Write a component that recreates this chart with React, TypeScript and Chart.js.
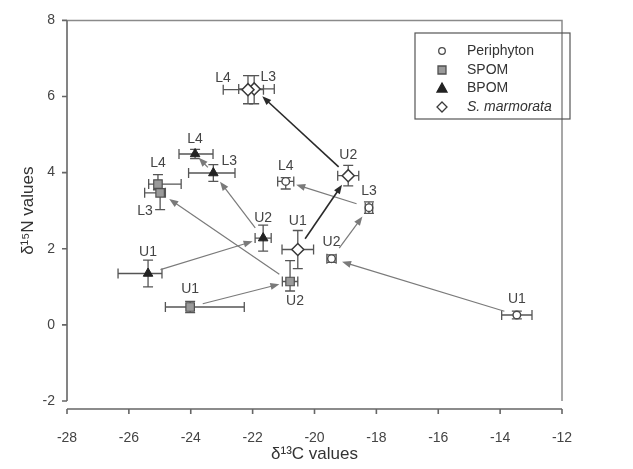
import React, { useEffect, useRef } from 'react';
import { Chart, registerables } from 'chart.js';

Chart.register(...registerables);

// ---- data ----
const stages = ['U1', 'U2', 'L3', 'L4'];

const periphytonX = [-13.46, -19.45, -18.24, -20.93];
const periphytonY = [0.26, 1.74, 3.08, 3.77];
const periphytonXErrLow = [0.49, 0.15, 0.12, 0.26];
const periphytonXErrHigh = [0.49, 0.15, 0.12, 0.26];
const periphytonYErrLow = [0.1, 0.1, 0.15, 0.2];
const periphytonYErrHigh = [0.1, 0.1, 0.15, 0.1];

const spomX = [-24.02, -20.79, -24.99, -25.06];
const spomY = [0.47, 1.14, 3.47, 3.7];
const spomXErrLow = [0.8, 0.25, 0.5, 0.3];
const spomXErrHigh = [1.75, 0.25, 0.17, 0.75];
const spomYErrLow = [0.15, 0.25, 0.44, 0.15];
const spomYErrHigh = [0.15, 0.55, 0.1, 0.25];

const bpomX = [-25.38, -21.66, -23.27, -23.86];
const bpomY = [1.35, 2.28, 3.99, 4.49];
const bpomXErrLow = [0.97, 0.26, 0.8, 0.52];
const bpomXErrHigh = [0.45, 0.26, 0.7, 0.58];
const bpomYErrLow = [0.35, 0.34, 0.22, 0.12];
const bpomYErrHigh = [0.35, 0.34, 0.22, 0.12];

const smarmX = [-20.54, -18.91, -21.95, -22.15];
const smarmY = [1.98, 3.92, 6.2, 6.18];
const smarmXErrLow = [0.51, 0.34, 0.5, 0.8];
const smarmXErrHigh = [0.51, 0.34, 0.65, 0.5];
const smarmYErrLow = [0.5, 0.27, 0.39, 0.37];
const smarmYErrHigh = [0.5, 0.27, 0.35, 0.37];

const periphytonPath = ['U1', 'U2', 'L3', 'L4'];
const spomPath = ['U1', 'U2', 'L3'];
const bpomPath = ['U1', 'U2', 'L3', 'L4'];
const smarmPath = ['U1', 'U2', 'L3'];

const xTickValues = [-28, -26, -24, -22, -20, -18, -16, -14, -12];
const yTickValues = [-2, 0, 2, 4, 6, 8];

const seriesNames = ['Periphyton', 'SPOM', 'BPOM', 'S. marmorata'];

// ---- styling (not data) ----
const FONT = '"Liberation Sans", Arial, Helvetica, sans-serif';
const labelOffsets: number[][][] = [
  [[0, -16], [0, -17], [0, -17], [0, -15]],
  [[0, -18], [5, 20], [-15, 18], [0, -21]],
  [[0, -21], [0, -20], [16, -12], [0, -15]],
  [[0, -28], [0, -21], [14, -12], [-25, -12]],
];

function pts(xs: number[], ys: number[]) {
  return xs.map((x, i) => ({ x, y: ys[i] }));
}

const errs = [
  [periphytonXErrLow, periphytonXErrHigh, periphytonYErrLow, periphytonYErrHigh],
  [spomXErrLow, spomXErrHigh, spomYErrLow, spomYErrHigh],
  [bpomXErrLow, bpomXErrHigh, bpomYErrLow, bpomYErrHigh],
  [smarmXErrLow, smarmXErrHigh, smarmYErrLow, smarmYErrHigh],
];
const paths = [periphytonPath, spomPath, bpomPath, smarmPath];
const arrowColors = ['#7a7a7a', '#7a7a7a', '#7a7a7a', '#2a2a2a'];
const arrowWidths = [1.2, 1.2, 1.2, 1.6];

const framePlugin = {
  id: 'frame',
  beforeDatasetsDraw(chart: any) {
    const { ctx } = chart;
    const xs = chart.scales.x;
    const ys = chart.scales.y;
    const x0 = xs.getPixelForValue(xTickValues[0]);
    const x1 = xs.getPixelForValue(xTickValues[xTickValues.length - 1]);
    const y0 = ys.getPixelForValue(yTickValues[yTickValues.length - 1]);
    const y1 = ys.getPixelForValue(yTickValues[0]);
    ctx.save();
    ctx.lineCap = 'butt';
    ctx.strokeStyle = '#8a8a8a';
    ctx.lineWidth = 1.5;
    ctx.beginPath();
    ctx.moveTo(x0, y0);
    ctx.lineTo(x1, y0);
    ctx.lineTo(x1, y1);
    ctx.stroke();
    ctx.strokeStyle = '#666';
    ctx.lineWidth = 1.6;
    ctx.beginPath();
    ctx.moveTo(x0, y0);
    ctx.lineTo(x0, y1);
    for (const v of yTickValues) {
      const y = ys.getPixelForValue(v);
      ctx.moveTo(x0 - 5, y);
      ctx.lineTo(x0, y);
    }
    ctx.stroke();
    const ya = y1 + 8;
    ctx.beginPath();
    ctx.moveTo(x0, ya);
    ctx.lineTo(x1, ya);
    for (const v of xTickValues) {
      const x = xs.getPixelForValue(v);
      ctx.moveTo(x, ya);
      ctx.lineTo(x, ya + 5);
    }
    ctx.stroke();

    // error bars
    ctx.strokeStyle = '#555';
    ctx.lineWidth = 1.3;
    chart.data.datasets.forEach((ds: any, di: number) => {
      const [xl, xh, yl, yh] = errs[di];
      ds.data.forEach((p: any, i: number) => {
        const px = xs.getPixelForValue(p.x);
        const py = ys.getPixelForValue(p.y);
        const xa = xs.getPixelForValue(p.x - xl[i]);
        const xb = xs.getPixelForValue(p.x + xh[i]);
        const ya2 = ys.getPixelForValue(p.y - yl[i]);
        const yb = ys.getPixelForValue(p.y + yh[i]);
        const c = 5;
        ctx.beginPath();
        ctx.moveTo(xa, py); ctx.lineTo(xb, py);
        ctx.moveTo(xa, py - c); ctx.lineTo(xa, py + c);
        ctx.moveTo(xb, py - c); ctx.lineTo(xb, py + c);
        ctx.moveTo(px, ya2); ctx.lineTo(px, yb);
        ctx.moveTo(px - c, ya2); ctx.lineTo(px + c, ya2);
        ctx.moveTo(px - c, yb); ctx.lineTo(px + c, yb);
        ctx.stroke();
      });
    });

    // arrows
    chart.data.datasets.forEach((ds: any, di: number) => {
      const path = paths[di];
      ctx.strokeStyle = arrowColors[di];
      ctx.fillStyle = arrowColors[di];
      ctx.lineWidth = arrowWidths[di];
      for (let k = 0; k < path.length - 1; k++) {
        const a = ds.data[stages.indexOf(path[k])];
        const b = ds.data[stages.indexOf(path[k + 1])];
        const ax = xs.getPixelForValue(a.x), ay = ys.getPixelForValue(a.y);
        const bx = xs.getPixelForValue(b.x), by = ys.getPixelForValue(b.y);
        const dx = bx - ax, dy = by - ay;
        const d = Math.hypot(dx, dy);
        const ux = dx / d, uy = dy / d;
        const g0 = Math.min(13, d * 0.3);
        const g1 = Math.min(11, d * 0.2);
        const sx = ax + ux * g0, sy = ay + uy * g0;
        const ex = bx - ux * g1, ey = by - uy * g1;
        const hl = 9, hw = 3.5;
        ctx.beginPath();
        ctx.moveTo(sx, sy);
        ctx.lineTo(ex - ux * hl * 0.8, ey - uy * hl * 0.8);
        ctx.stroke();
        ctx.beginPath();
        ctx.moveTo(ex, ey);
        ctx.lineTo(ex - ux * hl - uy * hw, ey - uy * hl + ux * hw);
        ctx.lineTo(ex - ux * hl + uy * hw, ey - uy * hl - ux * hw);
        ctx.closePath();
        ctx.fill();
      }
    });
    ctx.restore();
  },
  afterDatasetsDraw(chart: any) {
    const { ctx } = chart;
    const xs = chart.scales.x;
    const ys = chart.scales.y;
    ctx.save();
    ctx.fillStyle = '#444';
    ctx.font = `14px ${FONT}`;
    ctx.textAlign = 'center';
    ctx.textBaseline = 'middle';
    chart.data.datasets.forEach((ds: any, di: number) => {
      ds.data.forEach((p: any, i: number) => {
        const px = xs.getPixelForValue(p.x);
        const py = ys.getPixelForValue(p.y);
        const [ox, oy] = labelOffsets[di][i];
        ctx.fillText(stages[i], px + ox, py + oy);
      });
    });

    // legend
    const bx = 415, by = 33, bw = 155, bh = 86;
    ctx.strokeStyle = '#555';
    ctx.lineWidth = 1.2;
    ctx.strokeRect(bx, by, bw, bh);
    const rows = [51, 70, 88, 107];
    const mx = 442, tx = 467;
    chart.data.datasets.forEach((ds: any, di: number) => {
      const y = rows[di];
      ctx.save();
      ctx.lineWidth = 1.3;
      ctx.strokeStyle = ds.pointBorderColor;
      ctx.fillStyle = ds.pointBackgroundColor;
      ctx.beginPath();
      if (di === 0) {
        ctx.arc(mx, y, 3.3, 0, Math.PI * 2);
      } else if (di === 1) {
        ctx.rect(mx - 4, y - 4, 8, 8);
      } else if (di === 2) {
        ctx.moveTo(mx, y - 5);
        ctx.lineTo(mx + 5, y + 4);
        ctx.lineTo(mx - 5, y + 4);
        ctx.closePath();
      } else {
        ctx.moveTo(mx, y - 5);
        ctx.lineTo(mx + 5, y);
        ctx.lineTo(mx, y + 5);
        ctx.lineTo(mx - 5, y);
        ctx.closePath();
      }
      ctx.fill();
      ctx.stroke();
      ctx.restore();
      ctx.fillStyle = '#333';
      ctx.textAlign = 'left';
      ctx.font = di === 3 ? `italic 14px ${FONT}` : `14px ${FONT}`;
      ctx.fillText(seriesNames[di], tx, y);
    });
    ctx.restore();
  },
};

export default function App() {
  const ref = useRef<HTMLCanvasElement>(null);
  useEffect(() => {
    const chart = new Chart(ref.current as HTMLCanvasElement, {
      type: 'scatter',
      data: {
        datasets: [
          {
            label: seriesNames[0],
            data: pts(periphytonX, periphytonY),
            pointStyle: 'circle',
            pointRadius: 3.8,
            pointBackgroundColor: '#ffffff',
            pointBorderColor: '#4a4a4a',
            pointBorderWidth: 1.4,
          },
          {
            label: seriesNames[1],
            data: pts(spomX, spomY),
            pointStyle: 'rect',
            pointRadius: 6,
            pointBackgroundColor: '#9a9a9a',
            pointBorderColor: '#505050',
            pointBorderWidth: 1.2,
          },
          {
            label: seriesNames[2],
            data: pts(bpomX, bpomY),
            pointStyle: 'triangle',
            pointRadius: 5.5,
            pointBackgroundColor: '#222222',
            pointBorderColor: '#222222',
            pointBorderWidth: 1,
          },
          {
            label: seriesNames[3],
            data: pts(smarmX, smarmY),
            pointStyle: 'rectRot',
            pointRadius: 6,
            pointBackgroundColor: '#ffffff',
            pointBorderColor: '#3a3a3a',
            pointBorderWidth: 1.5,
          },
        ],
      } as any,
      options: {
        responsive: false,
        animation: false,
        layout: { padding: { top: 15, right: 71, bottom: 4, left: 18 } },
        plugins: { legend: { display: false }, tooltip: { enabled: false } },
        scales: {
          x: {
            type: 'linear',
            min: xTickValues[0],
            max: xTickValues[xTickValues.length - 1],
            grid: { display: false, drawTicks: false },
            border: { display: false },
            ticks: {
              stepSize: 2,
              padding: 29,
              color: '#444',
              font: { family: FONT, size: 14 },
            },
            title: {
              display: true,
              text: 'δ¹³C values',
              color: '#333',
              font: { family: FONT, size: 17 },
              padding: 0,
            },
            afterFit: (s: any) => { s.height = 64; },
          },
          y: {
            type: 'linear',
            min: yTickValues[0],
            max: yTickValues[yTickValues.length - 1],
            grid: { display: false, drawTicks: false },
            border: { display: false },
            ticks: {
              stepSize: 2,
              padding: 12,
              color: '#444',
              font: { family: FONT, size: 14 },
            },
            title: {
              display: true,
              text: 'δ¹⁵N values',
              color: '#333',
              font: { family: FONT, size: 17 },
              padding: 0,
            },
            afterFit: (s: any) => { s.width = 49; },
          },
        },
      } as any,
      plugins: [framePlugin],
    });
    return () => chart.destroy();
  }, []);
  return (
    <div style={{ position: 'fixed', left: 0, top: 0, width: 633, height: 469, background: '#fff' }}>
      <canvas ref={ref} width={633} height={469} style={{ display: 'block' }} />
    </div>
  );
}
